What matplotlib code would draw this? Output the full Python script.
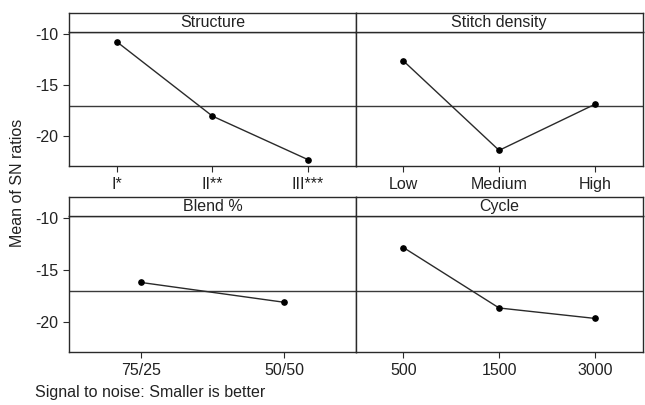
import matplotlib
matplotlib.use("Agg")
import matplotlib.pyplot as plt

plt.rcParams['font.family'] = ['Liberation Sans', 'DejaVu Sans']
plt.rcParams['font.size'] = 11.5

# main effects for SN ratios
structure_levels = ['I*', 'II**', 'III***']
structure_sn = [-10.8, -18.05, -22.3]
stitch_levels = ['Low', 'Medium', 'High']
stitch_sn = [-12.65, -21.4, -16.9]
blend_levels = ['75/25', '50/50']
blend_sn = [-16.2, -18.1]
cycle_levels = ['500', '1500', '3000']
cycle_sn = [-12.85, -18.65, -19.65]
grand_mean = -17.05

panels = [
    ('Structure', structure_levels, structure_sn),
    ('Stitch density', stitch_levels, stitch_sn),
    ('Blend %', blend_levels, blend_sn),
    ('Cycle', cycle_levels, cycle_sn),
]

W, H = 645, 405
fig = plt.figure(figsize=(W / 100, H / 100), dpi=100)

# pixel boxes: (left, right), (strip top, strip bottom, axis bottom)
cols = [(69.3, 355.5), (355.5, 642.7)]
rows = [(13.3, 31.7, 165.7), (197.3, 215.7, 352.3)]
line_col = '#2a2a2a'

for i, (title, levels, vals) in enumerate(panels):
    r, c = divmod(i, 2)
    x0, x1 = cols[c]
    st, sb, ab = rows[r]
    ax = fig.add_axes([x0 / W, 1 - ab / H, (x1 - x0) / W, (ab - sb) / H])
    sx = fig.add_axes([x0 / W, 1 - sb / H, (x1 - x0) / W, (sb - st) / H])

    xs = list(range(1, len(levels) + 1))
    ax.axhline(grand_mean, color='#3a3a3a', lw=1.0, zorder=1)
    ax.plot(xs, vals, color=line_col, lw=1.0, marker='o', ms=3.8,
            mfc='black', mec='black', zorder=3)
    ax.set_xlim(0.5, len(levels) + 0.5)
    ax.set_ylim(-22.9, -9.8)
    ax.set_xticks(xs)
    ax.set_xticklabels(levels, color='#222222')
    ax.set_yticks([-10, -15, -20])
    if c == 0:
        ax.set_yticklabels(['-10', '-15', '-20'], color='#222222')
    else:
        ax.tick_params(axis='y', left=False, labelleft=False)
    ax.tick_params(direction='out', length=4, width=0.8, color=line_col, pad=4)
    for s in ax.spines.values():
        s.set_color(line_col)
        s.set_linewidth(1.0)

    sx.set_xticks([])
    sx.set_yticks([])
    for s in sx.spines.values():
        s.set_color(line_col)
        s.set_linewidth(1.0)
    sx.text(0.5, 0.5, title, ha='center', va='center', color='#222222',
            transform=sx.transAxes)

fig.text(18 / W, 1 - 182.5 / H, 'Mean of SN ratios', rotation=90,
         ha='center', va='center', color='#222222')
fig.text(35 / W, 1 - 393 / H, 'Signal to noise: Smaller is better',
         ha='left', va='center', color='#222222')

fig.savefig('out.png', dpi=100)
